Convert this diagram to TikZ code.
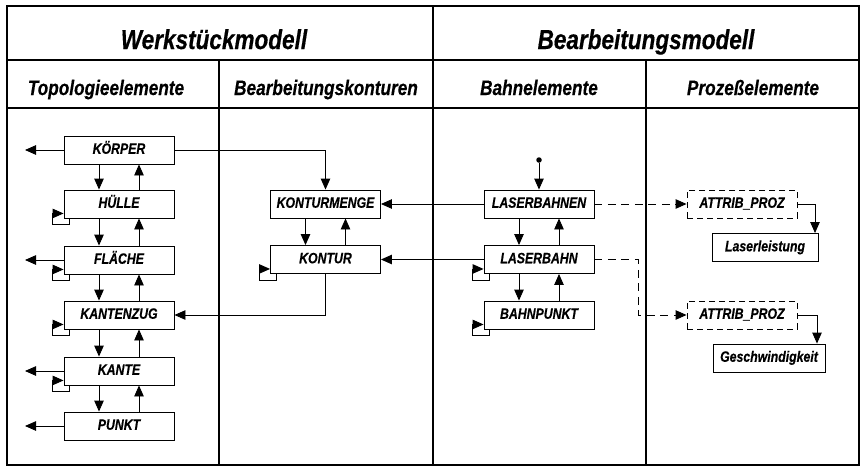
\documentclass[tikz,border=0pt]{standalone}
\usepackage{fontspec}
\usetikzlibrary{arrows.meta}
\newfontfamily\labfont{Liberation Sans}[FakeStretch=0.82,FakeBold=0.4]

\tikzset{
  lab/.style={font=\labfont\bfseries\itshape\fontsize{15}{17}\selectfont},
  elem/.style={lab, draw, line width=0.9pt, minimum width=110pt, minimum height=28pt,
    inner sep=0pt, text height=10.5pt, text depth=3pt},
  attr/.style={elem, dash pattern=on 6pt off 4pt},
  conn/.style={line width=0.9pt, -{Triangle[length=11pt,width=9.5pt]}},
  dconn/.style={conn, dash pattern=on 8pt off 5.5pt},
  frame/.style={line width=2pt},
  head/.style={font=\labfont\bfseries\itshape\fontsize{27.5}{32}\selectfont, anchor=base},
  subhead/.style={font=\labfont\bfseries\itshape\fontsize{21}{24}\selectfont, anchor=base},
}

% small feedback loop at the lower left corner of an element
\newcommand\selfref[1]{%
  \draw[conn] ([xshift=6pt]#1.south west) -- ++(0,-6pt)
    -| ([xshift=-11pt,yshift=5pt]#1.south west) -- ([yshift=5pt]#1.south west);}

\begin{document}
\begin{tikzpicture}[x=1pt,y=-1pt]
\useasboundingbox (0,0) rectangle (861,467);

% table frame
\draw[frame] (7,6) rectangle (859,465);
\draw[frame] (7,60) -- (859,60);
\draw[frame] (7,108) -- (859,108);
\draw[frame] (433,6) -- (433,465);
\draw[frame] (219,60) -- (219,465);
\draw[frame] (646,60) -- (646,465);

% headings
\node[head] (hw) at (214,49) {Werkstückmodell};
\node[head] (hb) at (646,49) {Bearbeitungsmodell};
\node[subhead] (st) at (106,95) {Topologieelemente};
\node[subhead] (sk) at (326,95) {Bearbeitungskonturen};
\node[subhead] (sb) at (539,95) {Bahnelemente};
\node[subhead] (sp) at (753,95) {Prozeßelemente};

% topology elements
\node[elem] (koerper)   at (119,150) {KÖRPER};
\node[elem] (huelle)    at (119,204) {HÜLLE};
\node[elem] (flaeche)   at (119,260) {FLÄCHE};
\node[elem] (kantenzug) at (119,315) {KANTENZUG};
\node[elem] (kante)     at (119,371) {KANTE};
\node[elem] (punkt)     at (119,426) {PUNKT};

% machining contours
\node[elem] (kmenge) at (325.5,204) {KONTURMENGE};
\node[elem] (kontur) at (325.5,259.5) {KONTUR};

% path elements
\node[elem] (lbahnen)   at (539,204) {LASERBAHNEN};
\node[elem] (lbahn)     at (539,259.5) {LASERBAHN};
\node[elem] (bpunkt)    at (539,315) {BAHNPUNKT};
\node[circle, fill, inner sep=0pt, minimum size=5.5pt] (start) at (539,160) {};

% process elements
\node[attr] (ap1) at (742,204) {ATTRIB\_PROZ};
\node[elem, minimum width=106pt] (leist) at (765,247.5) {Laserleistung};
\node[attr] (ap2) at (742,315) {ATTRIB\_PROZ};
\node[elem, minimum width=112pt] (geschw) at (769,358) {Geschwindigkeit};

% hierarchy arrows (down on the left, up on the right)
\foreach \a/\b in {koerper/huelle, huelle/flaeche, flaeche/kantenzug,
                   kantenzug/kante, kante/punkt, kmenge/kontur,
                   lbahnen/lbahn, lbahn/bpunkt}{
  \draw[conn] ([xshift=-20pt]\a.south) -- ([xshift=-20pt]\b.north);
  \draw[conn] ([xshift=20pt]\b.north) -- ([xshift=20pt]\a.south);
}

% outgoing arrows to the left
\coordinate (outl) at (25,0);
\foreach \a in {koerper, flaeche, kante, punkt}{
  \draw[conn] (\a.west) -- (\a.west -| outl);
}

% self references
\foreach \a in {huelle, flaeche, kantenzug, kante, kontur, lbahn, bpunkt}{
  \selfref{\a}
}

% cross-column links
\draw[conn] (koerper.east) -| (kmenge.north);
\draw[conn] (kontur.south) |- (kantenzug.east);
\draw[conn] (lbahnen.west) -- (kmenge.east);
\draw[conn] (lbahn.west) -- (kontur.east);
\draw[conn] (start) -- (lbahnen.north);

% process attributes
\coordinate (bend) at (638,315);
\draw[dconn] (lbahnen.east) -- (ap1.west);
\draw[dconn] (lbahn.east) -- (lbahn.east -| bend) -- (bend) -- (ap2.west);
\coordinate (c1) at (815,204);
\coordinate (c2) at (817,315);
\draw[conn] (ap1.east) -- (c1) -- (c1 |- leist.north);
\draw[conn] (ap2.east) -- (c2) -- (c2 |- geschw.north);
\end{tikzpicture}
\end{document}
